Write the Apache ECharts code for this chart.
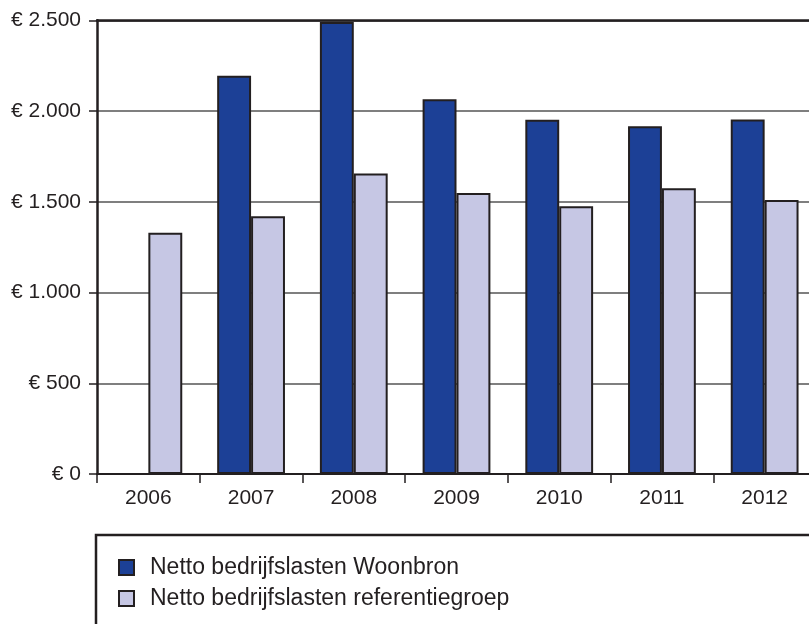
<!DOCTYPE html>
<html>
<head>
<meta charset="utf-8">
<script src="https://cdn.jsdelivr.net/npm/echarts@6/dist/echarts.min.js"></script>
<style>html,body{margin:0;padding:0;background:#fff;}#c{width:809px;height:624px;}</style>
</head>
<body>
<div id="c"></div>
<script>
const categories = ['2006', '2007', '2008', '2009', '2010', '2011', '2012'];
const woonbron = [null, 2195, 2490, 2065, 1952, 1916, 1954];
const referentiegroep = [1330, 1420, 1656, 1549, 1475, 1574, 1510];
const seriesNames = ['Netto bedrijfslasten Woonbron', 'Netto bedrijfslasten referentiegroep'];
const yTicks = { min: 0, max: 2500, interval: 500 };

const txt = '#231f20';
const font = 'Liberation Sans, Arial, sans-serif';
function euro(v) {
  return '€ ' + String(v).replace(/\B(?=(\d{3})+(?!\d))/g, '.');
}
const chart = echarts.init(document.getElementById('c'));
chart.setOption({
  animation: false,
  textStyle: { fontFamily: font, color: txt },
  grid: { left: 97, top: 20.3, width: 719, height: 453.7, containLabel: false, outerBoundsMode: 'none' },
  legend: {
    orient: 'vertical', left: 118, top: 556, padding: 0,
    itemWidth: 15, itemHeight: 15, itemGap: 8,
    icon: 'rect',
    textStyle: { fontFamily: font, fontSize: 23, color: txt, lineHeight: 22, padding: [0, 0, 0, 11] },
    data: seriesNames
  },
  graphic: [{
    type: 'rect', shape: { x: 96, y: 535, width: 800, height: 200 },
    style: { fill: 'none', stroke: txt, lineWidth: 2.5 }, silent: true
  }],
  xAxis: [{
    type: 'category', data: categories, position: 'bottom',
    axisLine: { show: true, lineStyle: { color: txt, width: 2 } },
    axisTick: { show: true, length: 9, lineStyle: { color: txt, width: 1.5 } },
    axisLabel: { fontSize: 21, color: txt, margin: 14, fontFamily: font },
    splitLine: { show: false }
  }, {
    type: 'category', data: categories, position: 'top',
    axisLine: { show: true, lineStyle: { color: txt, width: 2.5 } },
    axisTick: { show: false }, axisLabel: { show: false }
  }],
  yAxis: {
    type: 'value', min: yTicks.min, max: yTicks.max, interval: yTicks.interval,
    axisLine: { show: true, lineStyle: { color: txt, width: 2.5 } },
    axisTick: { show: true, length: 8, lineStyle: { color: txt, width: 1.5 } },
    axisLabel: { fontSize: 21, color: txt, margin: 16, formatter: euro, fontFamily: font },
    splitLine: { show: true, lineStyle: { color: '#555', width: 1.5 } }
  },
  series: [{
    name: seriesNames[0], type: 'bar', data: woonbron,
    barWidth: '33%', barGap: '0%',
    itemStyle: { color: '#1c4096', borderColor: txt, borderWidth: 2 }
  }, {
    name: seriesNames[1], type: 'bar', data: referentiegroep,
    barWidth: '33%', barGap: '0%',
    itemStyle: { color: '#c6c7e4', borderColor: txt, borderWidth: 2 }
  }]
});
</script>
</body>
</html>
